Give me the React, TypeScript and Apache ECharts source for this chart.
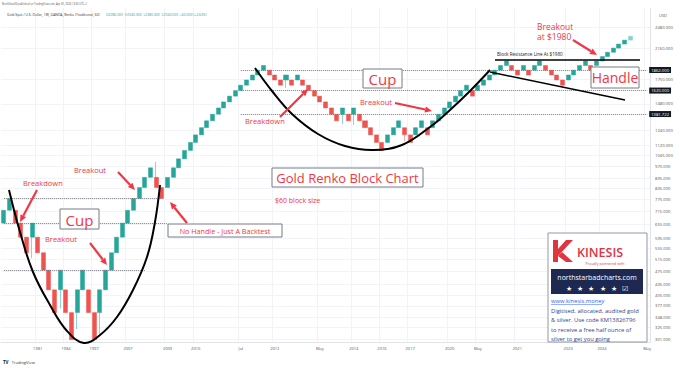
import React, { useEffect, useRef } from "react";
import * as echarts from "echarts";

// ---------- DATA ----------
const BLOCK = 60;
// Renko brick close prices ($60 traditional bricks), left to right
const renkoCloses = [
  720, 780, 660, 600, 540, 660, 540, 480, 420, 360, 480, 360, 300, 420, 480, 360, 300, 420, 480, 540, 600, 660, 720, 780, 840, 900, 960, 840, 780, 900,
  960, 1020, 1080, 1140, 1200, 1260, 1320, 1380, 1440, 1500, 1560, 1620, 1680, 1740, 1800, 1860, 1920,
  1800, 1740, 1680, 1800, 1680, 1800, 1680, 1620, 1560, 1500, 1440, 1380, 1320, 1440, 1320, 1440, 1320, 1260, 1200, 1140, 1080,
  1200, 1260, 1320, 1200, 1140, 1260, 1320, 1200, 1320, 1380, 1440, 1500, 1560, 1620, 1680, 1560, 1680, 1740, 1800, 1860, 1920, 1980,
  1860, 1800, 1920, 1800, 1920, 1980, 1860, 1800, 1740, 1680, 1800, 1860, 1920, 1980, 1860, 1980, 2040, 2100, 2160, 2220, 2280, 2340,
];
// wicks: brick index and the price the wick reaches
const wickIdx = [5, 10, 13, 17, 27, 50, 60, 62, 71, 99];
const wickPrice = [520, 370, 322, 312, 1000, 1650, 1290, 1285, 1150, 1650];
const emptySlots = 3;
const dateLabels = ["1981", "1984", "1997", "2007", "2009", "2010", "Jul", "2012", "May", "2014", "2016", "2017", "2020", "May", "2021", "2023", "2024", "May"];
const dateLabelIdx = [6, 11, 16, 22, 29, 34, 42, 48, 56, 62, 67, 72, 79, 84, 91, 100, 106, 114];
const priceTicks = [301, 325, 348, 377, 405, 435, 475, 515, 555, 595, 655, 715, 775, 835, 895, 970, 1045, 1120, 1240, 1480, 1750, 2160, 2480];
const priceMin = 295;
const priceMax = 2834;
const rightLevels = [1862, 1620, 1381.722];
const rightLevelStart = [42, 42, 42];
const leftLevels = [780, 660, 480];
const leftLevelEnd = [28, 29, 25];
const lastPrice = 2340;

// ---------- HELPERS ----------
const lg = (p: number) => Math.log10(p);
const RED = "#f23645";
const UP = "#26a69a";
const DOWN = "#ef5350";
const FONT = "'Open Sans', 'Liberation Sans', sans-serif";

function arrow(x1: number, y1: number, x2: number, y2: number) {
  const head = 7;
  const ang = Math.atan2(y2 - y1, x2 - x1);
  const bx = x2 - head * Math.cos(ang);
  const by = y2 - head * Math.sin(ang);
  const px = -Math.sin(ang) * head * 0.45;
  const py = Math.cos(ang) * head * 0.45;
  return [
    { type: "line", z: 100, shape: { x1, y1, x2: bx, y2: by }, style: { stroke: RED, lineWidth: 2.2 } },
    { type: "polygon", z: 100, shape: { points: [[x2, y2], [bx + px, by + py], [bx - px, by - py]] }, style: { fill: RED } },
  ];
}
function txt(x: number, y: number, text: string, fontSize: number, fill: string, align = "left", extra: any = {}) {
  return {
    type: "text", z: 101, x, y,
    style: { text, fill, fontSize, fontFamily: FONT, align, verticalAlign: "middle", ...extra },
  };
}
function box(x: number, y: number, w: number, h: number) {
  return { type: "rect", z: 100, shape: { x, y, width: w, height: h }, style: { fill: "#fff", stroke: "#787b86", lineWidth: 1 } };
}

export default function App() {
  const ref = useRef<HTMLDivElement>(null);
  useEffect(() => {
    if (!ref.current) return;
    const chart = echarts.init(ref.current, undefined, { renderer: "svg" });
    const n = renkoCloses.length;
    const cats = Array.from({ length: n + emptySlots }, (_, i) => String(i));
    const lastCat = n + emptySlots - 1;
    const candles = renkoCloses.map((c, i) => {
      const up = i === 0 ? true : c > renkoCloses[i - 1];
      const o = up ? c - BLOCK : c + BLOCK;
      let lo = Math.min(o, c);
      let hi = Math.max(o, c);
      const w = wickIdx.indexOf(i);
      if (w >= 0) {
        lo = Math.min(lo, wickPrice[w]);
        hi = Math.max(hi, wickPrice[w]);
      }
      const v = [lg(o), lg(c), lg(lo), lg(hi)];
      if (i === n - 1) return { value: v, itemStyle: { color: "#80d4cb", borderColor: "#80d4cb" } };
      return v;
    });
    const labelMap: Record<number, string> = {};
    dateLabelIdx.forEach((k, j) => (labelMap[k] = dateLabels[j]));
    const tickVals = priceTicks.map(lg);

    const dotted = { type: "dotted", color: "#787b86", width: 1 };
    const markData: any[] = [];
    rightLevels.forEach((p, k) => {
      const label = {
        show: true, position: "end", distance: 2, formatter: p.toFixed(3), color: "#fff",
        backgroundColor: "#131722", padding: [1, 2], fontSize: 4.2, fontFamily: FONT,
      };
      markData.push([
        { coord: [rightLevelStart[k], lg(p)], lineStyle: dotted, label },
        { coord: [lastCat, lg(p)], lineStyle: dotted, label },
      ]);
    });
    leftLevels.forEach((p, k) => {
      markData.push([
        { coord: [0, lg(p)], lineStyle: dotted, label: { show: false } },
        { coord: [leftLevelEnd[k], lg(p)], lineStyle: dotted, label: { show: false } },
      ]);
    });
    const lastLabel = {
      show: true, position: "end", distance: 2, formatter: lastPrice.toFixed(3), color: "#fff",
      backgroundColor: "#22ab94", padding: [1, 2], fontSize: 4.2, fontFamily: FONT,
    };
    markData.push([
      { coord: [n - 1, lg(lastPrice)], lineStyle: { opacity: 0 }, label: lastLabel },
      { coord: [lastCat, lg(lastPrice)], lineStyle: { opacity: 0 }, label: lastLabel },
    ]);

    const graphic: any[] = [
      // header
      {
        type: "text", z: 101, x: 2, y: 4,
        style: { text: "NorthStar49 published on TradingView.com, Apr 05, 2024 13:30 UTC+1", fill: "#555", fontSize: 2.6, fontFamily: FONT, verticalAlign: "middle" },
      },
      {
        type: "text", z: 101, x: 7, y: 14,
        style: {
          text: "{a|Gold Spot / U.S. Dollar, 1W, OANDA, Renko (Traditional, 60)}  {b|O2280.000  H2340.000  L2280.000  C2340.000  +60.000 (+2.63%)}",
          verticalAlign: "middle", fontFamily: FONT,
          rich: { a: { fill: "#333", fontSize: 3.4, fontFamily: FONT }, b: { fill: UP, fontSize: 3.4, fontFamily: FONT } },
        },
      },
      txt(663, 15, "USD", 4, "#555", "center"),
      {
        type: "text", z: 101, x: 3, y: 362,
        style: { text: "{l|TV} {t|TradingView}", verticalAlign: "middle", rich: { l: { fill: "#131722", fontSize: 4.5, fontWeight: "bold", fontFamily: FONT }, t: { fill: "#333", fontSize: 4, fontFamily: FONT } } },
      },
      // cups & lines
      {
        type: "polyline", z: 99,
        shape: { points: [[9, 190], [20, 232], [33, 272], [50, 305], [67, 331], [84, 343], [100, 335], [117, 317], [133, 290], [147, 257], [155, 222], [160, 185]], smooth: 0.4 },
        style: { stroke: "#000", lineWidth: 2, fill: null },
      },
      {
        type: "polyline", z: 99,
        shape: { points: [[255, 68], [272, 91], [292, 114], [318, 134], [345, 146], [373, 150], [402, 145], [430, 127], [450, 110], [470, 91], [490, 70]], smooth: 0.4 },
        style: { stroke: "#000", lineWidth: 2, fill: null },
      },
      { type: "line", z: 99, shape: { x1: 490, y1: 72, x2: 625, y2: 100 }, style: { stroke: "#000", lineWidth: 1.5 } },
      { type: "line", z: 99, shape: { x1: 495, y1: 60, x2: 640, y2: 60 }, style: { stroke: "#000", lineWidth: 1.5 } },
      txt(497, 54, "Block Resistance Line At $1980", 4.6, "#131722"),
      // arrows
      ...arrow(37, 190, 20, 222),
      ...arrow(90, 243, 107, 265),
      ...arrow(118, 172, 135, 190),
      ...arrow(187, 223, 170, 202),
      ...arrow(280, 117, 308, 89),
      ...arrow(395, 103, 432, 111),
      ...arrow(573, 40, 597, 55),
      // labels
      txt(23, 183, "Breakdown", 7.5, RED),
      txt(45, 239, "Breakout", 7.5, RED),
      txt(74, 170, "Breakout", 7.5, RED),
      txt(245, 121, "Breakdown", 7.5, RED),
      txt(360, 102, "Breakout", 7.5, RED),
      txt(537, 26, "Breakout", 8.5, RED),
      txt(537, 36, "at $1980", 8.5, RED),
      box(60, 209, 39, 20),
      txt(79.5, 219.5, "Cup", 15, RED, "center"),
      box(363, 69, 39, 19),
      txt(382.5, 78.5, "Cup", 15, RED, "center"),
      box(591, 67, 48, 21),
      txt(615, 77.5, "Handle", 14, RED, "center"),
      box(272, 168, 151, 19),
      txt(347.5, 177.5, "Gold Renko Block Chart", 13, RED, "center"),
      txt(275, 200, "$60 block size", 7, RED),
      box(168, 224, 114, 13),
      txt(225, 230.5, "No Handle - Just A Backtest", 7.2, RED, "center"),
      // Kinesis box
      { type: "rect", z: 100, shape: { x: 548, y: 233, width: 99, height: 109 }, style: { fill: "#fff", stroke: "#9598a1", lineWidth: 1 } },
      { type: "polygon", z: 101, shape: { points: [[553, 240], [558, 240], [558, 262], [553, 262]] }, style: { fill: "#e0343f" } },
      { type: "polygon", z: 101, shape: { points: [[558, 249], [566, 240], [573, 240], [558, 256]] }, style: { fill: "#e0343f" } },
      { type: "polygon", z: 101, shape: { points: [[562, 252], [573, 262], [566, 262], [558, 256]] }, style: { fill: "#e0343f" } },
      txt(577, 252.5, "KINESIS", 12.5, "#e0343f", "left", { fontWeight: 600 }),
      txt(605, 263, "Proudly partnered with", 3.6, "#e0343f", "center"),
      { type: "rect", z: 100, shape: { x: 551, y: 269, width: 92, height: 25 }, style: { fill: "#1d2951" } },
      txt(597, 277, "northstarbadcharts.com", 7, "#fff", "center"),
      txt(597, 288, "★   ★   ★   ★   ★   ☑", 6.5, "#fff", "center"),
      txt(551, 301, "www.kinesis.money", 5.8, "#2962ff"),
      { type: "line", z: 101, shape: { x1: 551, y1: 304.5, x2: 602, y2: 304.5 }, style: { stroke: "#2962ff", lineWidth: 0.5 } },
      txt(551, 310.5, "Digitised, allocated, audited gold", 5.8, "#2f3f86"),
      txt(551, 320, "& silver. Use code KM13826796", 5.8, "#2f3f86"),
      txt(551, 329.5, "to receive a free half ounce of", 5.8, "#2f3f86"),
      txt(551, 339, "silver to get you going", 5.8, "#2f3f86"),
    ];

    chart.setOption({
      animation: false,
      backgroundColor: "#fff",
      grid: { left: 1, right: 30, top: 8, bottom: 26, containLabel: false },
      xAxis: {
        type: "category",
        data: cats,
        boundaryGap: true,
        axisLine: { show: true, lineStyle: { color: "#e0e3eb" } },
        axisTick: { show: false },
        axisLabel: {
          interval: 0, margin: 4, fontSize: 4, color: "#555", fontFamily: FONT,
          formatter: (_v: string, i: number) => labelMap[i] || "",
        },
        splitLine: { show: true, interval: (i: number) => labelMap[i] !== undefined, lineStyle: { color: "#f0f3fa" } },
      },
      yAxis: {
        type: "value",
        position: "right",
        min: lg(priceMin),
        max: lg(priceMax),
        axisLine: { show: true, lineStyle: { color: "#e0e3eb" } },
        axisTick: { show: false, customValues: tickVals },
        axisLabel: {
          customValues: tickVals, margin: 5, fontSize: 4.2, color: "#555", fontFamily: FONT,
          formatter: (v: number) => {
            const p = Math.pow(10, v);
            let best = priceTicks[0];
            for (const t of priceTicks) if (Math.abs(t - p) < Math.abs(best - p)) best = t;
            return best.toFixed(3);
          },
        },
        splitLine: { show: true, lineStyle: { color: "#f0f3fa" } },
      },
      series: [
        {
          type: "candlestick",
          data: candles,
          barWidth: "80%",
          itemStyle: { color: UP, color0: DOWN, borderColor: UP, borderColor0: DOWN, borderWidth: 0.5 },
          markLine: { symbol: ["none", "none"], silent: true, animation: false, data: markData },
        },
      ],
      graphic,
    });
    return () => chart.dispose();
  }, []);
  return <div ref={ref} style={{ position: "absolute", left: 0, top: 0, width: 680, height: 368, background: "#fff" }} />;
}
